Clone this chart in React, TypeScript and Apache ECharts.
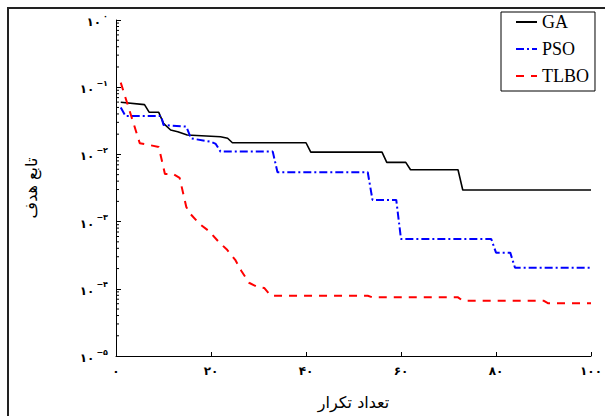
import React, { useEffect, useRef } from "react";
import * as echarts from "echarts";

// ---- data ----
const gaIter = [1, 6, 7, 9, 10, 11.5, 13, 15, 22, 23.5, 24.5, 40, 41, 56, 57, 61, 62, 72, 73, 100];
const gaVal = [0.0596, 0.055, 0.0423, 0.0423, 0.029, 0.0231, 0.0218, 0.0194, 0.0183, 0.0174, 0.0149, 0.0149, 0.0108, 0.0108, 0.0076, 0.0076, 0.0059, 0.0059, 0.00295, 0.00295];

const psoIter = [1, 2, 9.5, 10, 14.8, 15.8, 20, 21, 22, 33, 34, 53, 54, 59, 60, 79, 80, 83, 84, 100];
const psoVal = [0.05, 0.0373, 0.0373, 0.0274, 0.0259, 0.0173, 0.0154, 0.0143, 0.011, 0.011, 0.00542, 0.00542, 0.0021, 0.0021, 0.00055, 0.00055, 0.000345, 0.000345, 0.000206, 0.000206];

const tlboIter = [1, 5, 7, 9, 10.3, 12, 13.4, 14.8, 15.5, 17.6, 19.7, 21.5, 23.4, 25.1, 26.4, 28, 29.7, 31.2, 32.6, 53, 54, 72, 73, 90, 91, 100];
const tlboVal = [0.117, 0.0147, 0.0138, 0.0129, 0.00512, 0.00512, 0.00446, 0.00165, 0.00134, 0.00092, 0.00071, 0.00051, 0.00038, 0.00027, 0.000184, 0.000123, 0.000107, 0.000103, 0.000079, 0.000079, 0.0000747, 0.0000747, 0.0000665, 0.0000665, 0.0000608, 0.0000608];

const seriesNames = ["GA", "PSO", "TLBO"];
const xTickLabels = ["۰", "۲۰", "۴۰", "۶۰", "۸۰", "۱۰۰"];
const yExpLabels: Record<string, string> = { "0": "۰", "-1": "−۱", "-2": "−۲", "-3": "−۳", "-4": "−۴", "-5": "−۵" };
const yDecades = [-5, -4, -3, -2, -1];
const minorMultipliers = [2, 3, 4, 5, 6, 7, 8, 9];

const FA = "DejaVu Sans";

export default function App() {
  const ref = useRef<HTMLDivElement>(null);
  useEffect(() => {
    if (!ref.current) return;
    const chart = echarts.init(ref.current, null, { renderer: "svg" });
    const pairs = (xs: number[], ys: number[]) => xs.map((x, i) => [x, ys[i]]);
    const minorData: number[][] = [];
    yDecades.forEach((d) => minorMultipliers.forEach((m) => minorData.push([0, m * Math.pow(10, d)])));

    chart.setOption({
      animation: false,
      backgroundColor: "#fff",
      graphic: [
        {
          type: "rect",
          silent: true,
          z: -1,
          shape: { x: 8, y: 8, width: 700, height: 700 },
          style: { fill: "none", stroke: "#222", lineWidth: 2 },
        },
      ],
      grid: { left: 116, top: 20, right: 11, bottom: 60 },
      legend: {
        data: seriesNames,
        orient: "vertical",
        left: 501,
        top: 12,
        itemWidth: 21,
        itemHeight: 14,
        itemGap: 9,
        padding: [1, 6, 6, 14],
        borderColor: "#000",
        borderWidth: 1,
        backgroundColor: "#fff",
        itemStyle: { opacity: 0 },
        textStyle: { fontFamily: "Liberation Serif", fontSize: 18, lineHeight: 16, color: "#000" },
      },
      xAxis: {
        type: "value",
        min: 0,
        max: 100,
        interval: 20,
        splitLine: { show: false },
        axisLine: { lineStyle: { color: "#000", width: 1 } },
        axisTick: { inside: true, length: 4, lineStyle: { color: "#000" } },
        axisLabel: {
          margin: 9,
          color: "#000",
          fontFamily: FA,
          fontSize: 12,
          fontWeight: "bold",
          formatter: (v: number) => xTickLabels[Math.round(v / 20)] ?? "",
        },
        name: "تعداد تکرار",
        nameLocation: "middle",
        nameGap: 38,
        nameTextStyle: { fontFamily: FA, fontSize: 16, color: "#000" },
      },
      yAxis: {
        type: "log",
        logBase: 10,
        min: 0.00001,
        max: 1,
        splitNumber: 5,
        splitLine: { show: false },
        axisLine: { show: true, lineStyle: { color: "#000", width: 1 } },
        axisTick: { show: true, inside: true, length: 5, lineStyle: { color: "#000" } },
        axisLabel: {
          margin: 8,
          color: "#000",
          formatter: (v: number) => {
            const e = String(Math.round(Math.log10(v)));
            return `{b|۱۰}{s|${yExpLabels[e] ?? ""}}`;
          },
          rich: {
            b: { fontFamily: FA, fontSize: 12, fontWeight: "bold", color: "#000", lineHeight: 16, verticalAlign: "bottom" },
            s: { fontFamily: FA, fontSize: 8, fontWeight: "bold", color: "#000", lineHeight: 8, verticalAlign: "top", padding: [0, 0, 0, 2] },
          },
        },
        name: "تابع هدف",
        nameLocation: "middle",
        nameRotate: 90,
        nameGap: 77,
        nameTextStyle: { fontFamily: FA, fontSize: 16, color: "#000" },
      },
      series: [
        {
          name: "GA",
          type: "line",
          data: pairs(gaIter, gaVal),
          showSymbol: false,
          symbol: "none",
          itemStyle: { color: "#000" },
          lineStyle: { color: "#000", width: 1.6 },
        },
        {
          name: "PSO",
          type: "line",
          data: pairs(psoIter, psoVal),
          showSymbol: false,
          symbol: "none",
          itemStyle: { color: "#0000ff" },
          lineStyle: { color: "#0000ff", width: 2, type: [8, 3, 2, 3] },
        },
        {
          name: "TLBO",
          type: "line",
          data: pairs(tlboIter, tlboVal),
          showSymbol: false,
          symbol: "none",
          itemStyle: { color: "#ff0000" },
          lineStyle: { color: "#ff0000", width: 2, type: [8, 7] },
        },
        {
          name: "minor",
          type: "custom",
          silent: true,
          clip: false,
          data: minorData,
          renderItem: (_p: any, api: any) => {
            const pt = api.coord([0, api.value(1)]);
            return {
              type: "line",
              shape: { x1: pt[0], y1: pt[1], x2: pt[0] + 3, y2: pt[1] },
              style: { stroke: "#000", lineWidth: 1 },
            };
          },
        },
      ],
    });
    return () => chart.dispose();
  }, []);
  return <div ref={ref} style={{ position: "absolute", left: 0, top: 0, width: 605, height: 416 }} />;
}
